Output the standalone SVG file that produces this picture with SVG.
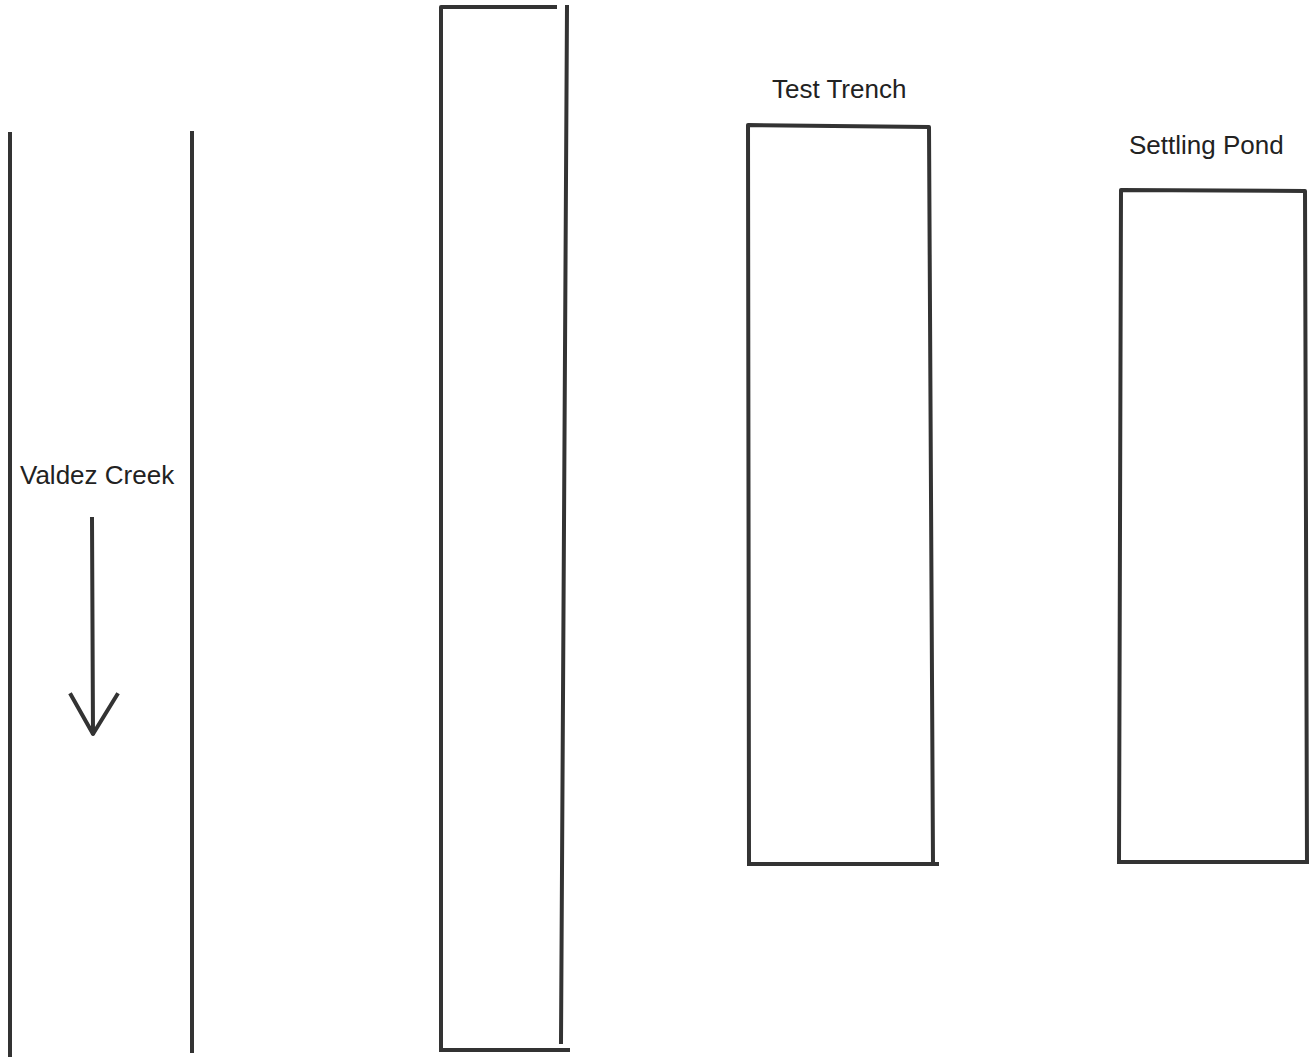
<svg xmlns="http://www.w3.org/2000/svg" width="1314" height="1057" viewBox="0 0 1314 1057">
<style>
.ln{fill:none;stroke:#333;stroke-width:4;stroke-linecap:square;stroke-linejoin:round}
.lbl{font-family:"Liberation Sans",Arial,sans-serif;font-size:26px;fill:#222}
</style>
<rect width="1314" height="1057" fill="#fff"/>
<g id="creek">
<line class="ln" x1="10" y1="134" x2="10" y2="1057"/>
<line class="ln" x1="192" y1="133" x2="192" y2="1051"/>
<text class="lbl" x="20" y="484">Valdez Creek</text>
<path class="ln" d="M92,519 L93,733 M71,695 L93,734 L117,695"/>
</g>
<g id="strip">
<path class="ln" d="M441,1050 L441,7 L555,7"/>
<line class="ln" x1="567" y1="7" x2="561" y2="1042"/>
<line class="ln" x1="441" y1="1050" x2="568" y2="1050"/>
</g>
<g id="test-trench">
<text class="lbl" x="772" y="98">Test Trench</text>
<path class="ln" d="M749,864 L748,125 L929,127 L933,864"/>
<line class="ln" x1="751" y1="864" x2="937" y2="864"/>
</g>
<g id="settling-pond">
<text class="lbl" x="1129" y="154">Settling Pond</text>
<path class="ln" d="M1119,862 L1121,190 L1305,191 L1307,862"/>
<line class="ln" x1="1119" y1="862" x2="1307" y2="862"/>
</g>
<g id="connectors"/>
</svg>
